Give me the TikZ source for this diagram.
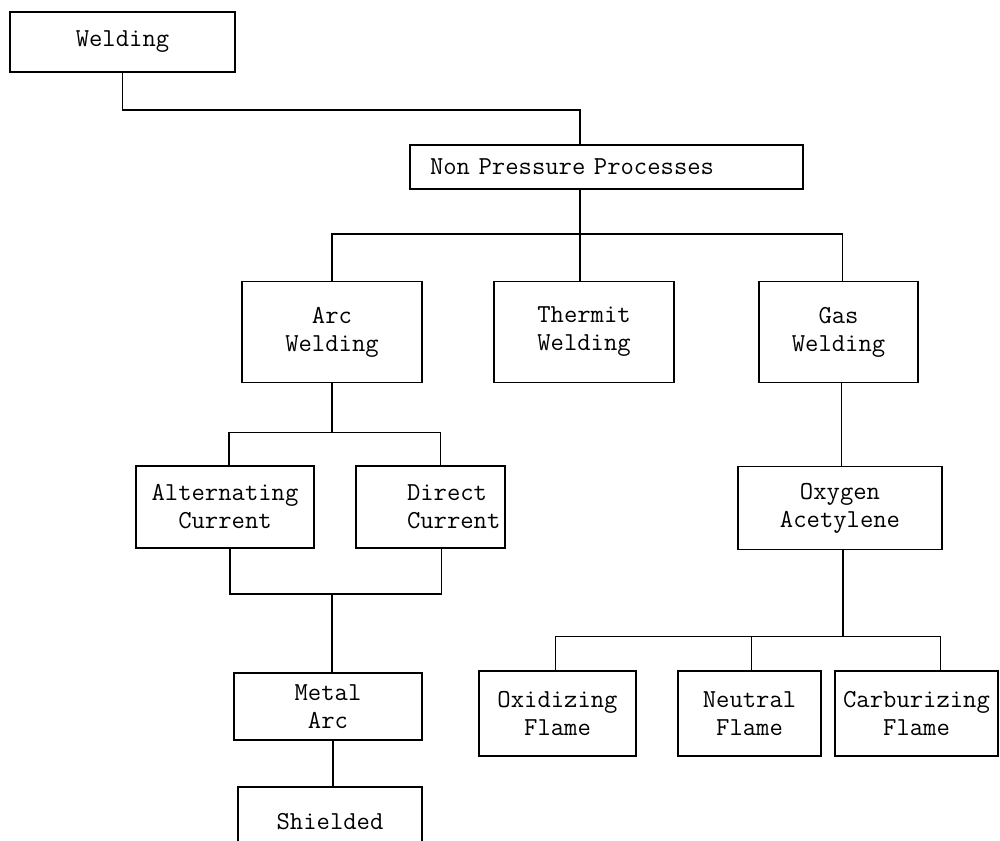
\documentclass[tikz,border=0pt]{standalone}
\usetikzlibrary{calc}

\begin{document}
\begin{tikzpicture}[x=1pt, y=-1pt,
		box/.style = {draw, line width=1.8pt, inner sep=0pt, align=center,
				font=\ttfamily\fontsize{25.9}{28}\selectfont},
		link/.style = {line width=1.8pt}
	]
	\useasboundingbox (0,0) rectangle (1000,840);

	\node [box, minimum width=225pt, minimum height=60pt] (weld) at (122.5,42) {Welding};
	\node [box, minimum width=393pt, minimum height=44pt, text width=353pt,
		align=left] (nonpress) at (606.5,167) {Non Pressure Processes};

	\node [box, minimum width=180pt, minimum height=101pt] (arc) at (332,332) {Arc\\Welding};
	\node [box, minimum width=180pt, minimum height=101pt] (thermit) at (584,332) {Thermit\\Welding};
	\node [box, minimum width=159pt, minimum height=101pt] (gas) at (838.5,332) {Gas\\Welding};

	\node [box, minimum width=178pt, minimum height=82pt] (ac) at (225,507) {Alternating\\Current};
	\node [box, minimum width=149pt, minimum height=82pt, text width=149pt,
		align=left] (dc) at (430.5,507) {\hspace*{51pt}Direct\\\hspace*{51pt}Current};
	\node [box, minimum width=188pt, minimum height=67pt] (metal) at (328,706.5) {Metal\\Arc};
	\node [box, minimum width=184pt, minimum height=70pt] (shield) at (330,822) {Shielded};

	\node [box, minimum width=204pt, minimum height=83pt] (oxy) at (840,508) {Oxygen\\Acetylene};
	\node [box, minimum width=157pt, minimum height=85pt] (oxid) at (557.5,713.5) {Oxidizing\\Flame};
	\node [box, minimum width=143pt, minimum height=85pt] (neutral) at (749.5,713.5) {Neutral\\Flame};
	\node [box, minimum width=163pt, minimum height=85pt] (carb) at (916.5,713.5) {Carburizing\\Flame};

	\draw[link] (weld.south) -- ++(0,37) -| ([xshift=-4pt]nonpress.north -| thermit.north);
	\draw[link] ([xshift=-4pt]nonpress.south -| thermit.north) -- ([xshift=-4pt]thermit.north);
	\draw[link] (arc.north) -- ++(0,-47) -| ([xshift=4pt]gas.north);

	\draw[link] (arc.south) -- ++(0,49) coordinate (acdc);
	\draw[link] ([xshift=4pt]ac.north) |- (acdc) -| ([xshift=10pt]dc.north);
	\draw[link] ([xshift=5pt]ac.south) -- ++(0,45) coordinate (acb) -| ([xshift=11pt]dc.south);
	\draw[link] (acb -| metal.north) ++(4pt,0) -- ([xshift=4pt]metal.north);
	\draw[link] ([xshift=5pt]metal.south) -- ([xshift=3pt]shield.north);

	\draw[link] ([xshift=3pt]gas.south) -- ([xshift=3pt]gas.south |- oxy.north);
	\draw[link] ([xshift=3pt]oxy.south) -- ++(0,86) coordinate (flames);
	\draw[link] ([xshift=-2pt]oxid.north) |- (flames) -| ([xshift=24pt]carb.north);
	\draw[link] ([xshift=2pt]neutral.north) -- ([xshift=2pt]neutral.north |- flames);
\end{tikzpicture}
\end{document}
